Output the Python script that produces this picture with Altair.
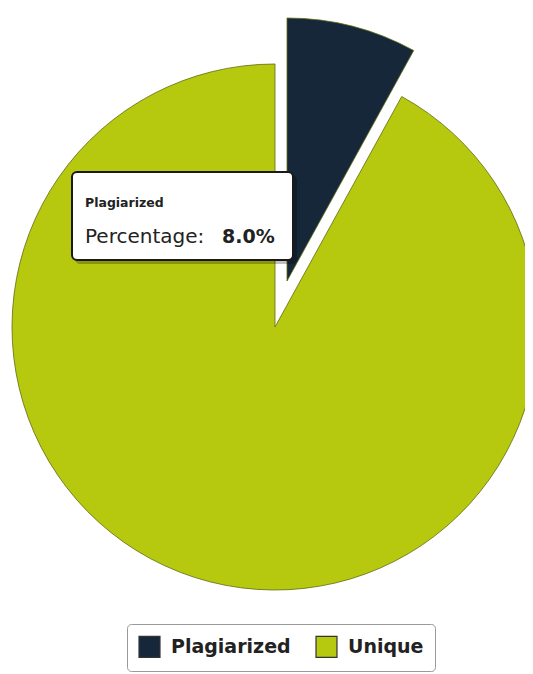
import altair as alt
import pandas as pd

labels = ["Plagiarized", "Unique"]
values = [8.0, 92.0]
colors = ["#17273a", "#b6c90f"]
tip_title = "Plagiarized"
tip_key = "Percentage:"
tip_value = f"{values[0]:.1f}%"

df = pd.DataFrame({"label": labels, "value": values, "ord": [0, 1]})

cx, cy, r = 267, 319, 263
dx, dy = 12, -46

color_scale = alt.Scale(domain=labels, range=colors)

def pie_layer(show, x, y, legend):
    return alt.Chart(df).mark_arc(radius=r, stroke="#5f6b10", strokeWidth=0.8).encode(
        theta=alt.Theta("value:Q", stack=True),
        order=alt.Order("ord:Q"),
        color=alt.Color("label:N", scale=color_scale, legend=legend, sort=labels),
        opacity=alt.condition(alt.datum.label == show, alt.value(1), alt.value(0)),
        x=alt.value(x), y=alt.value(y),
    )

legend = alt.Legend(
    title=None, orient="none", legendX=119, legendY=616, direction="horizontal",
    symbolType="square", symbolSize=440, symbolStrokeColor="#333", symbolStrokeWidth=1.2,
    labelFontSize=19, labelFont="DejaVu Sans", labelFontWeight="bold", labelColor="#222",
    padding=11, strokeColor="#9a9a9a", fillColor="white", cornerRadius=4,
    columnPadding=22, labelOffset=10, symbolOpacity=1,
)

green = pie_layer("Unique", cx, cy, legend)
dark = pie_layer("Plagiarized", cx + dx, cy + dy, None)

one = pd.DataFrame({"a": [0]})
shadow = alt.Chart(one).mark_rect(fill="#000", opacity=0.25, cornerRadius=5).encode(
    x=alt.value(67), x2=alt.value(289), y=alt.value(167), y2=alt.value(256))
box = alt.Chart(one).mark_rect(fill="white", stroke="#1a1a1a", strokeWidth=2, cornerRadius=5).encode(
    x=alt.value(64), x2=alt.value(285), y=alt.value(164), y2=alt.value(252))

t1 = alt.Chart(pd.DataFrame({"t": [tip_title]})).mark_text(
    align="left", baseline="alphabetic", fontSize=12.5, fontWeight="bold", font="DejaVu Sans", color="#222"
).encode(text="t:N", x=alt.value(77), y=alt.value(199))
t2 = alt.Chart(pd.DataFrame({"t": [tip_key]})).mark_text(
    align="left", baseline="alphabetic", fontSize=20, font="DejaVu Sans", color="#222"
).encode(text="t:N", x=alt.value(77), y=alt.value(235))
t3 = alt.Chart(pd.DataFrame({"t": [tip_value]})).mark_text(
    align="left", baseline="alphabetic", fontSize=19, fontWeight="bold", font="DejaVu Sans", color="#222"
).encode(text="t:N", x=alt.value(214), y=alt.value(235))

chart = alt.layer(green, dark, shadow, box, t1, t2, t3).properties(
    width=517, height=666, padding=0, autosize=alt.AutoSizeParams(type="none")
).configure_view(stroke=None).resolve_scale(color="shared")

chart.save("out.html", embed_options={"renderer": "svg", "actions": False})
